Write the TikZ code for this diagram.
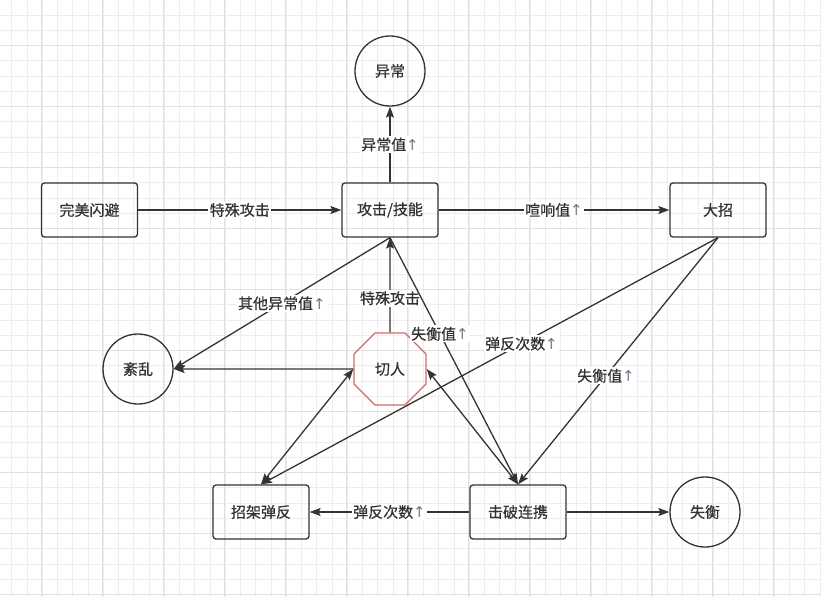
\documentclass[tikz,border=0pt]{standalone}
\usepackage{fontspec}
\setmainfont{Noto Sans CJK SC}[FakeBold=0.6]
\newfontfamily\symfont{DejaVu Sans}
\usetikzlibrary{arrows.meta,shapes.geometric}
\definecolor{ink}{HTML}{333333}
\definecolor{gridminor}{HTML}{EDEDED}
\definecolor{gridmajor}{HTML}{E0E0E0}
\definecolor{octred}{HTML}{D06A6A}
\definecolor{arrowgray}{HTML}{6B7B8C}
\newcommand\upmark{{\symfont\color{arrowgray}↑}}
\begin{document}
\begin{tikzpicture}[x=1pt,y=-1pt,
  every node/.style={font=\fontsize{15}{17}\selectfont, text=ink},
  box/.style={draw=ink, line width=1.3pt, rounded corners=3pt, minimum width=96pt, minimum height=54pt, inner sep=0pt},
  circ/.style={draw=ink, line width=1.3pt, circle, minimum size=70pt, inner sep=0pt},
  oct/.style={draw=octred, line width=1.3pt, regular polygon, regular polygon sides=8, minimum size=78pt, inner sep=0pt},
  conn/.style={draw=ink, line width=1.3pt, -{Stealth[length=11pt,width=8pt,inset=2pt]}},
  both/.style={draw=ink, line width=1.3pt, {Stealth[length=11pt,width=8pt,inset=2pt]}-{Stealth[length=11pt,width=8pt,inset=2pt]}},
  lbl/.style={fill=white, inner sep=1.5pt}
]
\useasboundingbox (0,0) rectangle (821,597);
\fill[white] (0,0) rectangle (821,597);
% grid
\foreach \i in {0,...,54} {
  \draw[gridminor, line width=0.8pt] ({11.7+15.25*\i},0) -- ({11.7+15.25*\i},597);
}
\foreach \i in {0,...,39} {
  \draw[gridminor, line width=0.8pt] (0,{15+15.25*\i}) -- (821,{15+15.25*\i});
}
\foreach \i in {0,...,13} {
  \draw[gridmajor, line width=0.9pt] ({41.7+61*\i},0) -- ({41.7+61*\i},597);
}
\foreach \i in {0,...,9} {
  \draw[gridmajor, line width=0.9pt] (0,{45.5+61*\i}) -- (821,{45.5+61*\i});
}

% nodes
\node[circ] (yc) at (390,71) {异常};
\node[box] (atk) at (390,210) {攻击/技能};
\node[box] (pd) at (89.5,210) {完美闪避};
\node[box] (dz) at (718,210) {大招};
\node[circ] (wl) at (138,369) {紊乱};
\node[oct] (qr) at (390,369) {切人};
\node[box] (zj) at (261,512) {招架弹反};
\node[box] (pj) at (518,512) {击破连携};
\node[circ] (sh) at (705,512) {失衡};

% connectors
\draw[conn] (pd) -- node[lbl]{特殊攻击} (atk);
\draw[conn] (atk) -- node[lbl]{喧响值\upmark} (dz);
\draw[conn] (atk) -- node[lbl]{异常值\upmark} (yc);
\draw[conn] (atk.south) -- node[lbl]{其他异常值\upmark} (wl.east);
\draw[conn] (qr.north) -- node[lbl,pos=0.36]{特殊攻击} (atk.south);
\draw[conn] (qr.west) -- (wl.east);
\draw[conn] (atk.south) -- node[lbl,pos=0.39]{失衡值\upmark} (pj.north);
\draw[both] (pj.north) -- (qr.east);
\draw[both] (zj.north) -- (qr.west);
\draw[conn] (dz.south) -- node[lbl,pos=0.43]{弹反次数\upmark} (zj.north);
\draw[conn] (dz.south) -- node[lbl,pos=0.56]{失衡值\upmark} (pj.north);
\draw[conn] (pj) -- node[lbl]{弹反次数\upmark} (zj);
\draw[conn] (pj) -- (sh);
\end{tikzpicture}
\end{document}
